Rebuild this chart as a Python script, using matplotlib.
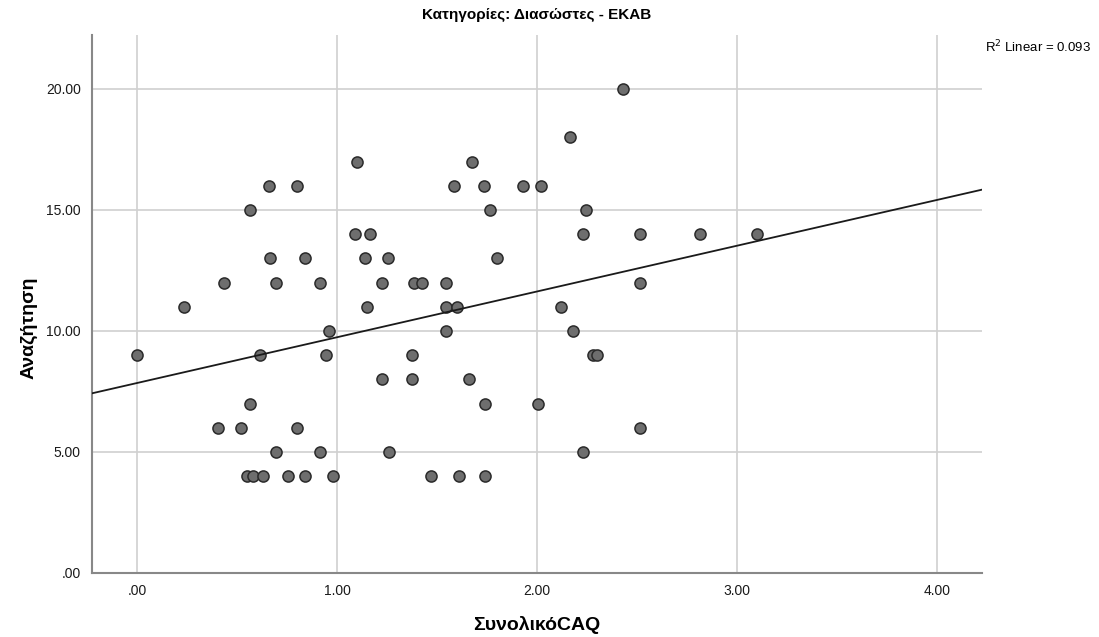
import numpy as np
import matplotlib
matplotlib.use("Agg")
import matplotlib.pyplot as plt

plt.rcParams['font.family'] = ['Liberation Sans', 'DejaVu Sans']

# Total CAQ score (x) and search score (y) for each respondent
caq = [0.00, 0.235, 0.407, 0.435, 0.518, 0.552, 0.567, 0.567, 0.578, 0.617,
       0.63, 0.658, 0.663, 0.693, 0.693, 0.757, 0.80, 0.80, 0.84, 0.84,
       0.915, 0.915, 0.943, 0.962, 0.978, 1.088, 1.10, 1.138, 1.152, 1.167,
       1.227, 1.227, 1.257, 1.262, 1.373, 1.373, 1.387, 1.427, 1.472, 1.547,
       1.547, 1.547, 1.583, 1.598, 1.612, 1.662, 1.673, 1.735, 1.742, 1.742,
       1.765, 1.80, 1.93, 2.007, 2.02, 2.118, 2.167, 2.18, 2.23, 2.23,
       2.243, 2.282, 2.298, 2.432, 2.517, 2.517, 2.517, 2.815, 3.10]
search = [9, 11, 6, 12, 6, 4, 15, 7, 4, 9,
          4, 16, 13, 12, 5, 4, 16, 6, 13, 4,
          12, 5, 9, 10, 4, 14, 17, 13, 11, 14,
          12, 8, 13, 5, 9, 8, 12, 12, 4, 12,
          11, 10, 16, 11, 4, 8, 17, 16, 7, 4,
          15, 13, 16, 7, 16, 11, 18, 10, 14, 5,
          15, 9, 9, 20, 14, 12, 6, 14, 14]

x_ticks = [0, 1, 2, 3, 4]
x_labels = [".00", "1.00", "2.00", "3.00", "4.00"]
y_ticks = [0, 5, 10, 15, 20]
y_labels = [".00", "5.00", "10.00", "15.00", "20.00"]
r2_label = "R$^2$ Linear = 0.093"

W, H = 1099, 637
fig = plt.figure(figsize=(W / 100, H / 100), dpi=100)
ax = fig.add_axes([92 / W, 1 - 573 / H, (982 - 92) / W, (573 - 35) / H])

xlim = (-0.225, 4.225)
ylim = (0, 22.23)
ax.set_xlim(*xlim)
ax.set_ylim(*ylim)

ax.set_xticks(x_ticks)
ax.set_xticklabels(x_labels)
ax.set_yticks(y_ticks)
ax.set_yticklabels(y_labels)
ax.tick_params(length=0, labelsize=10, colors="#1a1a1a", pad=8)
ax.grid(True, color="#d0d0d0", linewidth=1.2)
ax.set_axisbelow(True)

for side in ("top", "right"):
    ax.spines[side].set_visible(False)
for side in ("left", "bottom"):
    ax.spines[side].set_color("#888888")
    ax.spines[side].set_linewidth(1.5)

ax.scatter(caq, search, s=64, facecolor="#6e6e6e", edgecolor="#2a2a2a",
           linewidth=1.1, zorder=3)

# Least-squares fit line across the whole axis range
slope, intercept = np.polyfit(caq, search, 1)
xs = np.array(xlim)
ax.plot(xs, intercept + slope * xs, color="#1a1a1a", linewidth=1.3, zorder=4)

# Axis titles
fig.text(537 / W, 1 - 625 / H, "ΣυνολικόCAQ", ha="center", va="center",
         fontsize=14, fontweight="bold")
fig.text(29 / W, 1 - 328 / H, "Αναζήτηση", ha="center", va="center",
         rotation=90, fontsize=14, fontweight="bold")

fig.text(537 / W, 1 - 15 / H, "Κατηγορίες: Διασώστες - ΕΚΑΒ",
         ha="center", va="center", fontsize=11, fontweight="bold")
fig.text(985 / W, 1 - 47 / H, r2_label, ha="left", va="center", fontsize=9.5)

fig.savefig("out.png", dpi=100)
